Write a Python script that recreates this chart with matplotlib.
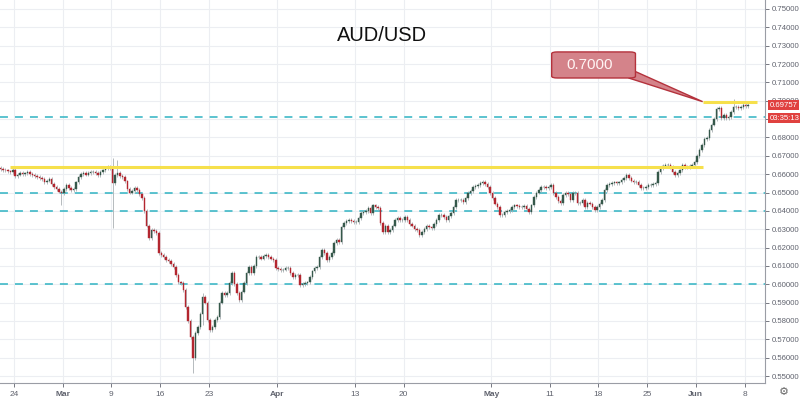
import numpy as np
import matplotlib.pyplot as plt
from matplotlib.patches import FancyBboxPatch, Polygon

# 6-hour closes, 4 per trading day, Feb 20 -> Jun 8 2020
closes = [
    0.6640, 0.6632, 0.6628, 0.6622,  # Feb 20
    0.6620, 0.6615, 0.6612, 0.6625,  # Feb 21
    0.6590, 0.6598, 0.6606, 0.6600,  # Feb 24
    0.6604, 0.6610, 0.6600, 0.6595,
    0.6590, 0.6585, 0.6578, 0.6572,
    0.6555, 0.6565, 0.6573, 0.6545,
    0.6530, 0.6520, 0.6505, 0.6497,  # Feb 28
    0.6520, 0.6540, 0.6525, 0.6514,  # Mar 2
    0.6520, 0.6555, 0.6584, 0.6600,
    0.6606, 0.6598, 0.6606, 0.6610,
    0.6612, 0.6605, 0.6595, 0.6610,
    0.6620, 0.6633, 0.6640, 0.6633,  # Mar 6
    0.6550, 0.6595, 0.6606, 0.6590,  # Mar 9
    0.6584, 0.6560, 0.6520, 0.6500,
    0.6510, 0.6525, 0.6514, 0.6490,
    0.6470, 0.6400, 0.6320, 0.6250,
    0.6296, 0.6290, 0.6280, 0.6170,  # Mar 13
    0.6160, 0.6150, 0.6132, 0.6125,  # Mar 16
    0.6110, 0.6094, 0.6050, 0.6010,
    0.6006, 0.5970, 0.5875, 0.5800,
    0.5712, 0.5600, 0.5733, 0.5767,
    0.5840, 0.5930, 0.5900, 0.5805,  # Mar 20
    0.5750, 0.5767, 0.5805, 0.5820,  # Mar 23
    0.5900, 0.5952, 0.5940, 0.5952,
    0.6006, 0.6060, 0.6000, 0.5952,
    0.5914, 0.5960, 0.6006, 0.6060,
    0.6094, 0.6060, 0.6100, 0.6148,  # Mar 27
    0.6148, 0.6140, 0.6155, 0.6160,  # Mar 30
    0.6148, 0.6140, 0.6132, 0.6090,
    0.6085, 0.6077, 0.6080, 0.6090,
    0.6090, 0.6060, 0.6040, 0.6050,
    0.6050, 0.5996, 0.6000, 0.6006,  # Apr 3
    0.6010, 0.6040, 0.6070, 0.6090,  # Apr 6
    0.6094, 0.6148, 0.6186, 0.6170,
    0.6132, 0.6150, 0.6170, 0.6225,
    0.6240, 0.6230, 0.6312, 0.6334,
    0.6345, 0.6350, 0.6345, 0.6340,  # Apr 10
    0.6340, 0.6360, 0.6388, 0.6394,  # Apr 13
    0.6400, 0.6415, 0.6388, 0.6430,
    0.6420, 0.6415, 0.6334, 0.6285,
    0.6320, 0.6285, 0.6296, 0.6320,
    0.6350, 0.6360, 0.6350, 0.6350,  # Apr 17
    0.6366, 0.6350, 0.6330, 0.6320,  # Apr 20
    0.6300, 0.6296, 0.6270, 0.6285,
    0.6300, 0.6320, 0.6310, 0.6306,
    0.6330, 0.6350, 0.6377, 0.6377,
    0.6366, 0.6350, 0.6370, 0.6388,  # Apr 24
    0.6420, 0.6460, 0.6460, 0.6460,  # Apr 27
    0.6450, 0.6470, 0.6497, 0.6510,
    0.6530, 0.6535, 0.6540, 0.6550,
    0.6557, 0.6545, 0.6530, 0.6497,
    0.6470, 0.6440, 0.6420, 0.6377,  # May 1
    0.6377, 0.6394, 0.6400, 0.6405,  # May 4
    0.6420, 0.6430, 0.6425, 0.6420,
    0.6420, 0.6425, 0.6410, 0.6394,
    0.6430, 0.6475, 0.6500, 0.6514,
    0.6530, 0.6530, 0.6525, 0.6530,  # May 8
    0.6540, 0.6497, 0.6475, 0.6455,  # May 11
    0.6443, 0.6486, 0.6497, 0.6490,
    0.6460, 0.6497, 0.6500, 0.6443,
    0.6443, 0.6460, 0.6420, 0.6443,
    0.6440, 0.6420, 0.6405, 0.6420,  # May 15
    0.6440, 0.6460, 0.6514, 0.6540,  # May 18
    0.6545, 0.6550, 0.6555, 0.6550,
    0.6555, 0.6568, 0.6580, 0.6595,
    0.6580, 0.6565, 0.6557, 0.6557,
    0.6540, 0.6525, 0.6525, 0.6530,  # May 22
    0.6540, 0.6540, 0.6545, 0.6550,  # May 25
    0.6612, 0.6635, 0.6645, 0.6650,
    0.6650, 0.6639, 0.6610, 0.6595,
    0.6606, 0.6620, 0.6650, 0.6640,
    0.6639, 0.6645, 0.6650, 0.6666,  # May 29
    0.6700, 0.6730, 0.6759, 0.6790,  # Jun 1
    0.6797, 0.6840, 0.6870, 0.6900,
    0.6955, 0.6960, 0.6906, 0.6922,
    0.6906, 0.6911, 0.6939, 0.6966,
    0.6966, 0.6960, 0.6965, 0.6977,  # Jun 5
    0.6972, 0.6976,                  # Jun 8
]
first_open = 0.6645
# notable wicks: candle index -> (high, low)
spikes = {
    27: (None, 0.6433),
    46: (0.6650, None),
    48: (0.6688, 0.6307),
    50: (0.6677, None),
    81: (None, 0.5516),
    85: (0.5952, 0.5780),
    303: (0.7010, None),
}

tick_days = [2, 7, 12, 17, 22, 29, 37, 42, 51, 57, 62, 67, 72, 77]
tick_labels = ['24', 'Mar', '9', '16', '23', 'Apr', '13', '20', 'May',
               '11', '18', '25', 'Jun', '8']
month_labels = ['Mar', 'Apr', 'May', 'Jun']

support_levels = [0.6910, 0.6500, 0.6400, 0.6000]
yellow_low = 0.6639
yellow_high = 0.6995
last_price = 0.69757
countdown = '03:35:13'

plt.rcParams['font.family'] = ['Liberation Sans', 'DejaVu Sans']

closes = np.array(closes)
opens = np.concatenate([[first_open], closes[:-1]])
highs = np.maximum(opens, closes) + 0.0010
lows = np.minimum(opens, closes) - 0.0010
for i, (h, l) in spikes.items():
    if h is not None:
        highs[i] = h
    if l is not None:
        lows[i] = l
x = np.arange(len(closes)) / 4 + 0.125
up = closes >= opens

fig = plt.figure(figsize=(8, 3.98), dpi=100)
ax = fig.add_axes([0, 15 / 398, 765 / 800, 383 / 398])
ax.set_xlim(0.563, 79.1)
ax.set_ylim(0.5462, 0.7549)

grid_c = '#eceef2'
for d in tick_days:
    ax.axvline(d, color=grid_c, lw=0.8, zorder=0)
for p in np.arange(0.55, 0.7501, 0.01):
    ax.axhline(p, color=grid_c, lw=0.8, zorder=0)

for lvl in support_levels:
    ax.axhline(lvl, color='#2fb3c2', lw=1.1, ls=(0, (5.2, 4.6)), zorder=1)

ax.vlines(x, lows, highs, color='#a9b0b3', lw=0.6, zorder=2)
ax.bar(x[up], (closes - opens)[up], bottom=opens[up], width=0.15,
       color='#35584a', edgecolor='#35584a', lw=0.3, zorder=3)
ax.bar(x[~up], (closes - opens)[~up], bottom=opens[~up], width=0.15,
       color='#b3262f', edgecolor='#b3262f', lw=0.3, zorder=3)

ax.hlines(yellow_low, 1.6, 72.7, color='#f6e04c', lw=2.2, zorder=4)
ax.hlines(yellow_high, 72.7, 78.3, color='#f6e04c', lw=2.2, zorder=4)

# callout box
bx0, bx1, by0, by1 = 57.2, 65.8, 0.7124, 0.7266
box = FancyBboxPatch((bx0, by0), bx1 - bx0, by1 - by0,
                     boxstyle='round,pad=0,rounding_size=0.6',
                     mutation_aspect=0.0016,
                     fc='#d4838a', ec='#b4323c', lw=1, zorder=6)
ax.add_patch(box)
tail = Polygon([(bx1 - 0.7, by0), (bx1, by0 + 0.0035), (72.7, yellow_high)],
               closed=True, fc='#d4838a', ec='#b4323c', lw=1, zorder=5)
ax.add_patch(tail)
ax.text((bx0 + bx1) / 2 - 0.4, (by0 + by1) / 2, '0.7000', color='#fff4f4',
        fontsize=11, ha='center', va='center', zorder=7)

ax.set_title('AUD/USD', fontsize=14.5, y=0.87, color='#111111')

ax.yaxis.tick_right()
ax.set_yticks(np.arange(0.55, 0.7501, 0.01))
ax.set_yticklabels(['%.5f' % v for v in np.arange(0.55, 0.7501, 0.01)])
ax.set_xticks(tick_days)
ax.set_xticklabels(tick_labels)
for lab in ax.get_xticklabels():
    if lab.get_text() in month_labels:
        lab.set_fontweight('bold')
ax.tick_params(axis='y', labelsize=5.6, colors='#60636e', length=3, width=0.6, pad=1.5)
ax.tick_params(axis='x', labelsize=6, colors='#60636e', length=3, width=0.6, pad=2.5)
for s in ['top', 'left']:
    ax.spines[s].set_visible(False)
ax.spines['right'].set_color('#9a9da5')
ax.spines['bottom'].set_color('#9a9da5')
ax.spines['right'].set_linewidth(0.8)
ax.spines['bottom'].set_linewidth(0.8)

ytr = ax.get_yaxis_transform()
ax.annotate('0.69757', xy=(1, last_price), xycoords=ytr, xytext=(3.2, 0),
            textcoords='offset points', ha='left', va='center', fontsize=5.6,
            color='white', annotation_clip=False,
            bbox=dict(boxstyle='square,pad=0.2', fc='#e0413f', ec='none'))
ax.annotate(countdown, xy=(1, last_price), xycoords=ytr, xytext=(3.2, -9.4),
            textcoords='offset points', ha='left', va='center', fontsize=5.6,
            color='white', annotation_clip=False,
            bbox=dict(boxstyle='square,pad=0.2', fc='#e0413f', ec='none'))

fig.text(784 / 800, 1 - 392 / 398, '\u2699', fontsize=8, color='#666666',
         ha='center', va='center', family='DejaVu Sans')

fig.savefig('out.png', dpi=100)
